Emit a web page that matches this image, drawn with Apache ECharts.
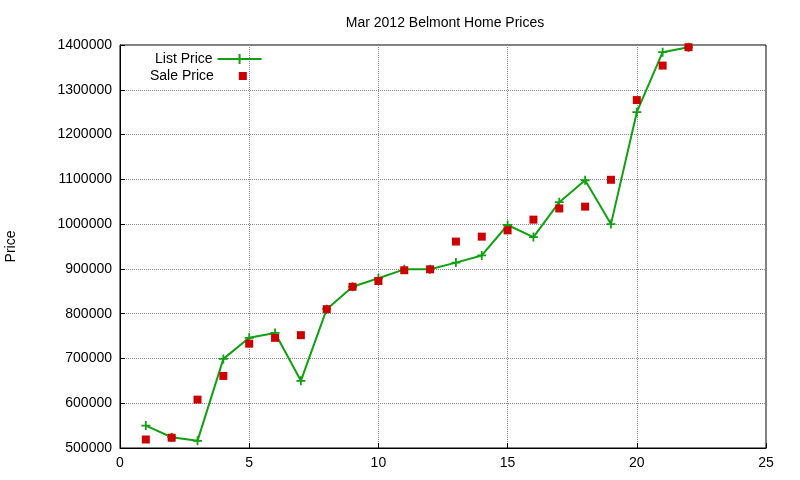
<!DOCTYPE html>
<html><head><meta charset="utf-8">
<script src="https://cdn.jsdelivr.net/npm/echarts@6/dist/echarts.min.js"></script>
<style>html,body{margin:0;padding:0;background:#fff}#c{width:800px;height:480px}</style>
</head><body><div id="c"></div>
<script>
const days = [1,2,3,4,5,6,7,8,9,10,11,12,13,14,15,16,17,18,19,20,21,22];
const listPrice = [550000,524000,516000,699000,746000,757000,650000,810000,860000,879000,899000,899000,914000,930000,998000,971000,1049000,1098000,1000000,1250000,1384000,1395000];
const salePrice = [519000,523000,608000,661000,733000,746000,752000,810000,860000,873000,897000,899000,961000,972000,986000,1010000,1035000,1039000,1099000,1277000,1354000,1395000];
const chart = echarts.init(document.getElementById('c'));
const f = 'Liberation Sans, Arial, sans-serif';
chart.setOption({
  animation:false,
  title:{text:'Mar 2012 Belmont Home Prices',left:440,textAlign:'center',top:11,textStyle:{fontFamily:f,fontSize:14,fontWeight:'normal',color:'#000'}},
  legend:[
    {left:150,top:47,align:'right',itemWidth:44,itemHeight:12,
      textStyle:{fontFamily:f,fontSize:14,color:'#000'},
      data:[{name:'List Price',icon:'path://M0,5H21V1H23V5H44V7H23V11H21V7H0Z'}]},
    {left:145,top:64,align:'right',itemWidth:8,itemHeight:8,
      textStyle:{fontFamily:f,fontSize:14,color:'#000',padding:[0,20,0,0]},
      data:[{name:'Sale Price',icon:'rect'}]}
  ],
  grid:{left:120,right:34,top:45,bottom:32,outerBoundsMode:'none'},
  xAxis:{type:'value',min:0,max:25,interval:5,
    axisLine:{show:true,onZero:false,lineStyle:{color:'#000'}},axisTick:{inside:true,lineStyle:{color:'#000'}},
    axisLabel:{fontFamily:f,fontSize:14,color:'#000'},
    splitLine:{show:true,lineStyle:{type:'dotted',color:'#888'}}},
  yAxis:{type:'value',min:500000,max:1400000,interval:100000,name:'Price',nameLocation:'middle',nameGap:102,
    nameTextStyle:{fontFamily:f,fontSize:14,color:'#000'},
    axisLine:{show:true,onZero:false,lineStyle:{color:'#000'}},axisTick:{inside:true,lineStyle:{color:'#000'}},
    axisLabel:{fontFamily:f,fontSize:14,color:'#000',formatter:v=>String(v)},
    splitLine:{show:true,lineStyle:{type:'dotted',color:'#888'}}},
  series:[
    {name:'List Price',type:'line',data:days.map((d,i)=>[d,listPrice[i]]),
      lineStyle:{color:'#11a011',width:2},itemStyle:{color:'#11a011'},
      symbol:'path://M4,0H6V4H10V6H6V10H4V6H0V4H4Z',symbolSize:9,showSymbol:true},
    {name:'Sale Price',type:'scatter',data:days.map((d,i)=>[d,salePrice[i]]),
      symbol:'rect',symbolSize:8,itemStyle:{color:'#cc0000',opacity:1},z:3}
  ],
  graphic:[{type:'rect',shape:{x:120,y:45,width:646,height:403},style:{fill:'none',stroke:'#000',lineWidth:1},silent:true}]
});
</script></body></html>
